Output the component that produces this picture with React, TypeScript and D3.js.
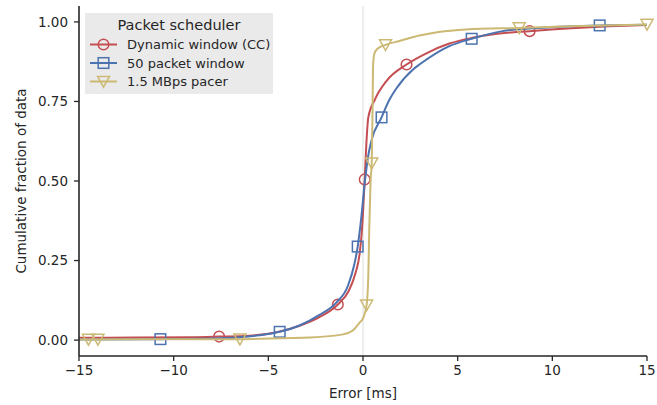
import React from "react";
import * as d3 from "d3";

// CDF knots of timing error per scheduler: [error ms, cumulative fraction]
const dynamicWindow: [number, number][] = [
  [-15, 0.007], [-12, 0.008], [-9, 0.009], [-7.6, 0.011], [-6, 0.014], [-5, 0.02],
  [-4.4, 0.027], [-3.35, 0.045], [-2.3, 0.072], [-1.33, 0.112], [-0.75, 0.155],
  [-0.4, 0.21], [-0.18, 0.27], [-0.05, 0.35], [0.09, 0.505], [0.18, 0.62],
  [0.28, 0.7], [0.63, 0.756], [1.25, 0.815], [2.3, 0.866], [3.4, 0.903],
  [4.56, 0.932], [5.77, 0.95], [7, 0.962], [8.8, 0.971], [11, 0.98], [13, 0.986], [15, 0.99],
];
const packetWindow: [number, number][] = [
  [-15, 0.002], [-10.7, 0.003], [-8, 0.005], [-6.5, 0.009], [-5.5, 0.015], [-4.4, 0.026],
  [-3.35, 0.046], [-2.3, 0.079], [-1.41, 0.118], [-0.8, 0.17], [-0.45, 0.24],
  [-0.28, 0.294], [-0.1, 0.38], [0.09, 0.493], [0.25, 0.57], [0.46, 0.63], [0.98, 0.7],
  [1.4, 0.756], [1.75, 0.79], [2.63, 0.85], [2.98, 0.866], [4.56, 0.924], [5.74, 0.947],
  [7.37, 0.971], [9.5, 0.982], [12.5, 0.989], [15, 0.991],
];
const pacer: [number, number][] = [
  [-15, 0.002], [-10, 0.003], [-6.5, 0.003], [-5.5, 0.004], [-2.8, 0.008], [-1.06, 0.018],
  [-0.45, 0.035], [-0.18, 0.055], [0.0, 0.068], [0.19, 0.11], [0.28, 0.2], [0.33, 0.35],
  [0.4, 0.5], [0.46, 0.556], [0.5, 0.7], [0.53, 0.86], [0.6, 0.9], [0.75, 0.915],
  [1.19, 0.928], [1.92, 0.94], [2.98, 0.957], [4, 0.968], [5.44, 0.976], [8.25, 0.981],
  [11, 0.986], [15, 0.992],
];

// Marker positions along each curve
const dynamicWindowMarkers: [number, number][] = [
  [-7.6, 0.011], [-1.33, 0.112], [0.09, 0.505], [2.3, 0.866], [8.8, 0.971],
];
const packetWindowMarkers: [number, number][] = [
  [-10.7, 0.003], [-4.4, 0.026], [-0.28, 0.294], [0.98, 0.7], [5.74, 0.947], [12.5, 0.989],
];
const pacerMarkers: [number, number][] = [
  [-14.5, 0.002], [-14.0, 0.002], [-6.5, 0.003], [0.19, 0.11], [0.46, 0.556],
  [1.19, 0.928], [8.25, 0.981], [15, 0.992],
];

const seriesNames = ["Dynamic window (CC)", "50 packet window", "1.5 MBps pacer"];
const xTicks = [-15, -10, -5, 0, 5, 10, 15];
const yTicks = [0, 0.25, 0.5, 0.75, 1.0];

const W = 657;
const H = 405;
const FONT = "DejaVu Sans, sans-serif";
const INK = "#262626";

type Shape = "circle" | "square" | "triangle";

function Marker({ x, y, shape, color }: { x: number; y: number; shape: Shape; color: string }) {
  const common = { fill: "none", stroke: color, strokeWidth: 1.5 };
  if (shape === "circle") return <circle cx={x} cy={y} r={5.3} {...common} />;
  if (shape === "square") return <rect x={x - 5.3} y={y - 5.3} width={10.6} height={10.6} {...common} />;
  const s = 6;
  return (
    <path
      d={`M${x - s},${y - s * 0.85}L${x + s},${y - s * 0.85}L${x},${y + s * 0.95}Z`}
      {...common}
    />
  );
}

export default function App() {
  const x = d3.scaleLinear().domain([-15, 15]).range([79, 647]);
  const y = d3.scaleLinear().domain([-0.05, 1.05]).range([356, 6]);
  const line = d3
    .line<[number, number]>()
    .x((d) => x(d[0]))
    .y((d) => y(d[1]))
    .curve(d3.curveMonotoneX);

  const series = [
    { name: seriesNames[0], data: dynamicWindow, marks: dynamicWindowMarkers, color: "#C44E52", shape: "circle" as Shape },
    { name: seriesNames[1], data: packetWindow, marks: packetWindowMarkers, color: "#4C72B0", shape: "square" as Shape },
    { name: seriesNames[2], data: pacer, marks: pacerMarkers, color: "#CCB974", shape: "triangle" as Shape },
  ];

  const fmtY = d3.format(".2f");
  const fmtX = (v: number) => (v < 0 ? "\u2212" + Math.abs(v) : String(v));

  return (
    <svg
      width={W}
      height={H}
      style={{ position: "absolute", left: 0, top: 0, background: "#fff" }}
      fontFamily={FONT}
    >
      {/* zero-error reference */}
      <line x1={x(0)} x2={x(0)} y1={6} y2={356} stroke="#dcdcdc" strokeWidth={1} />

      {series.map((s) => (
        <g key={s.name}>
          <path d={line(s.data) ?? ""} fill="none" stroke={s.color} strokeWidth={2} strokeLinejoin="round" />
          {s.marks.map((m, i) => (
            <Marker key={i} x={x(m[0])} y={y(m[1])} shape={s.shape} color={s.color} />
          ))}
        </g>
      ))}

      {/* axes */}
      <line x1={79} x2={79} y1={6} y2={356} stroke={INK} strokeWidth={1.6} />
      <line x1={79} x2={647} y1={356} y2={356} stroke={INK} strokeWidth={1.6} />
      {yTicks.map((t) => (
        <g key={t}>
          <line x1={74} x2={79} y1={y(t)} y2={y(t)} stroke={INK} strokeWidth={1.3} />
          <text x={68} y={y(t)} dy="0.36em" textAnchor="end" fontSize={13.5} fill={INK}>
            {fmtY(t)}
          </text>
        </g>
      ))}
      {xTicks.map((t) => (
        <g key={t}>
          <line x1={x(t)} x2={x(t)} y1={356} y2={361} stroke={INK} strokeWidth={1.3} />
          <text x={x(t)} y={375} textAnchor="middle" fontSize={13.5} fill={INK}>
            {fmtX(t)}
          </text>
        </g>
      ))}
      <text x={x(0)} y={398} textAnchor="middle" fontSize={13.5} fill={INK}>
        Error [ms]
      </text>
      <text
        transform={`translate(26,${y(0.5)}) rotate(-90)`}
        textAnchor="middle"
        fontSize={13.5}
        fill={INK}
      >
        Cumulative fraction of data
      </text>

      {/* legend */}
      <g>
        <rect x={85} y={13} width={188} height={81} fill="#eaeaea" />
        <text x={179} y={30} textAnchor="middle" fontSize={14.5} fill={INK}>
          Packet scheduler
        </text>
        {series.map((s, i) => {
          const cy = 44.5 + i * 18.5;
          return (
            <g key={s.name}>
              <line x1={90} x2={117} y1={cy} y2={cy} stroke={s.color} strokeWidth={2} />
              <Marker x={103.5} y={cy} shape={s.shape} color={s.color} />
              <text x={127} y={cy} dy="0.36em" fontSize={13} fill={INK}>
                {s.name}
              </text>
            </g>
          );
        })}
      </g>
    </svg>
  );
}
